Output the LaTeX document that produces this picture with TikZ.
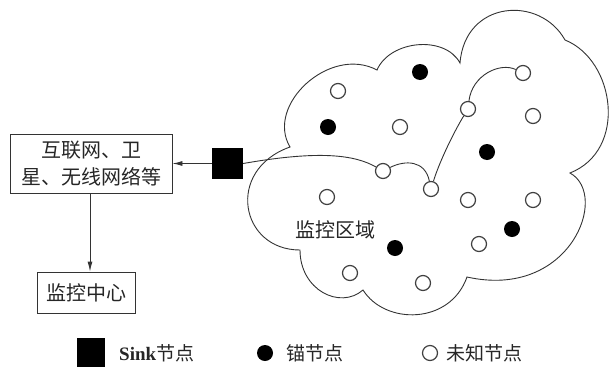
\documentclass[tikz,border=0pt]{standalone}
\usepackage{fontspec}
\setmainfont{Liberation Serif}
\newfontfamily\cjk{Noto Sans CJK SC}
\usetikzlibrary{arrows.meta}
\begin{document}
\begin{tikzpicture}[x=1pt,y=-1pt,
  ln/.style={draw=black!80,line width=0.9pt},
  arr/.style={ln,-{Latex[length=10pt,width=5pt]}},
  box/.style={ln,rectangle,inner sep=0pt,align=center,font=\cjk\fontsize{20}{27}\selectfont,text=black!85},
  unk/.style={circle,draw=black!75,line width=1.2pt,fill=white,minimum size=15pt,inner sep=0pt},
  anc/.style={circle,fill=black,minimum size=16pt,inner sep=0pt},
  sinkbox/.style={rectangle,fill=black,inner sep=0pt},
  lbl/.style={font=\cjk\fontsize{19}{22}\selectfont,text=black!85,inner sep=0pt}]
\useasboundingbox (0,0) rectangle (609,367);
% cloud
\draw[ln] (290,147) .. controls (265,105) and (330,45) .. (377,70)
  .. controls (390,40) and (445,35) .. (460,63)
  .. controls (465,0) and (540,-5) .. (565,40)
  .. controls (615,60) and (628,150) .. (570,173)
  .. controls (610,195) and (570,300) .. (467,277)
  .. controls (450,325) and (385,325) .. (363,290)
  .. controls (340,310) and (300,290) .. (300,250)
  .. controls (240,250) and (225,170) .. cycle;
\node[lbl,font=\cjk\fontsize{20}{22}\selectfont] (area) at (335,230) {监控区域};
% boxes
\node[box,minimum width=162pt,minimum height=59pt] (net) at (91,163.5) {互联网、卫\\星、无线网络等};
\node[box,minimum width=98pt,minimum height=41pt] (ctr) at (86,292.5) {监控中心};
\node[sinkbox,minimum width=31pt,minimum height=31pt] (sink) at (227.5,163.5) {};
\draw[arr] (sink.west) -- (net.east);
\draw[arr] (net.south -| 90,0) -- (ctr.north -| 90,0);
% anchors
\node[anc] (a1) at (420,72) {};
\node[anc] (a2) at (328,127) {};
\node[anc] (a3) at (487,152) {};
\node[anc] (a4) at (512,229) {};
\node[anc] (a5) at (395,248) {};
% unknown nodes
\node[unk] (n1) at (338,91) {};
\node[unk] (n2) at (400,127) {};
\node[unk] (p4) at (523,73) {};
\node[unk] (p3) at (468,109) {};
\node[unk] (n3) at (533,116) {};
\node[unk] (p1) at (383,171) {};
\node[unk] (p2) at (431,189) {};
\node[unk] (n4) at (327,197) {};
\node[unk] (n5) at (468,200) {};
\node[unk] (n6) at (533,200) {};
\node[unk] (n7) at (479,244) {};
\node[unk] (n8) at (350,273) {};
\node[unk] (n9) at (423,283) {};
% route
\draw[ln] (sink.east) .. controls (320,150) and (355,155) .. (p1);
\draw[ln] (p1) .. controls (405,160) and (425,160) .. (p2);
\draw[ln] (p2) .. controls (440,160) and (455,130) .. (p3);
\draw[ln] (p3) .. controls (472,75) and (500,62) .. (p4);
% legend
\node[sinkbox,minimum width=28pt,minimum height=29pt] (lsink) at (91,352.5) {};
\node[lbl,anchor=west] (tsink) at (119,353) {{\rmfamily\bfseries Sink}节点};
\node[anc] (lanc) at (265,353) {};
\node[lbl,anchor=west] (tanc) at (286,353) {锚节点};
\node[unk] (lunk) at (430,353) {};
\node[lbl,anchor=west] (tunk) at (446,353) {未知节点};
\end{tikzpicture}
\end{document}
